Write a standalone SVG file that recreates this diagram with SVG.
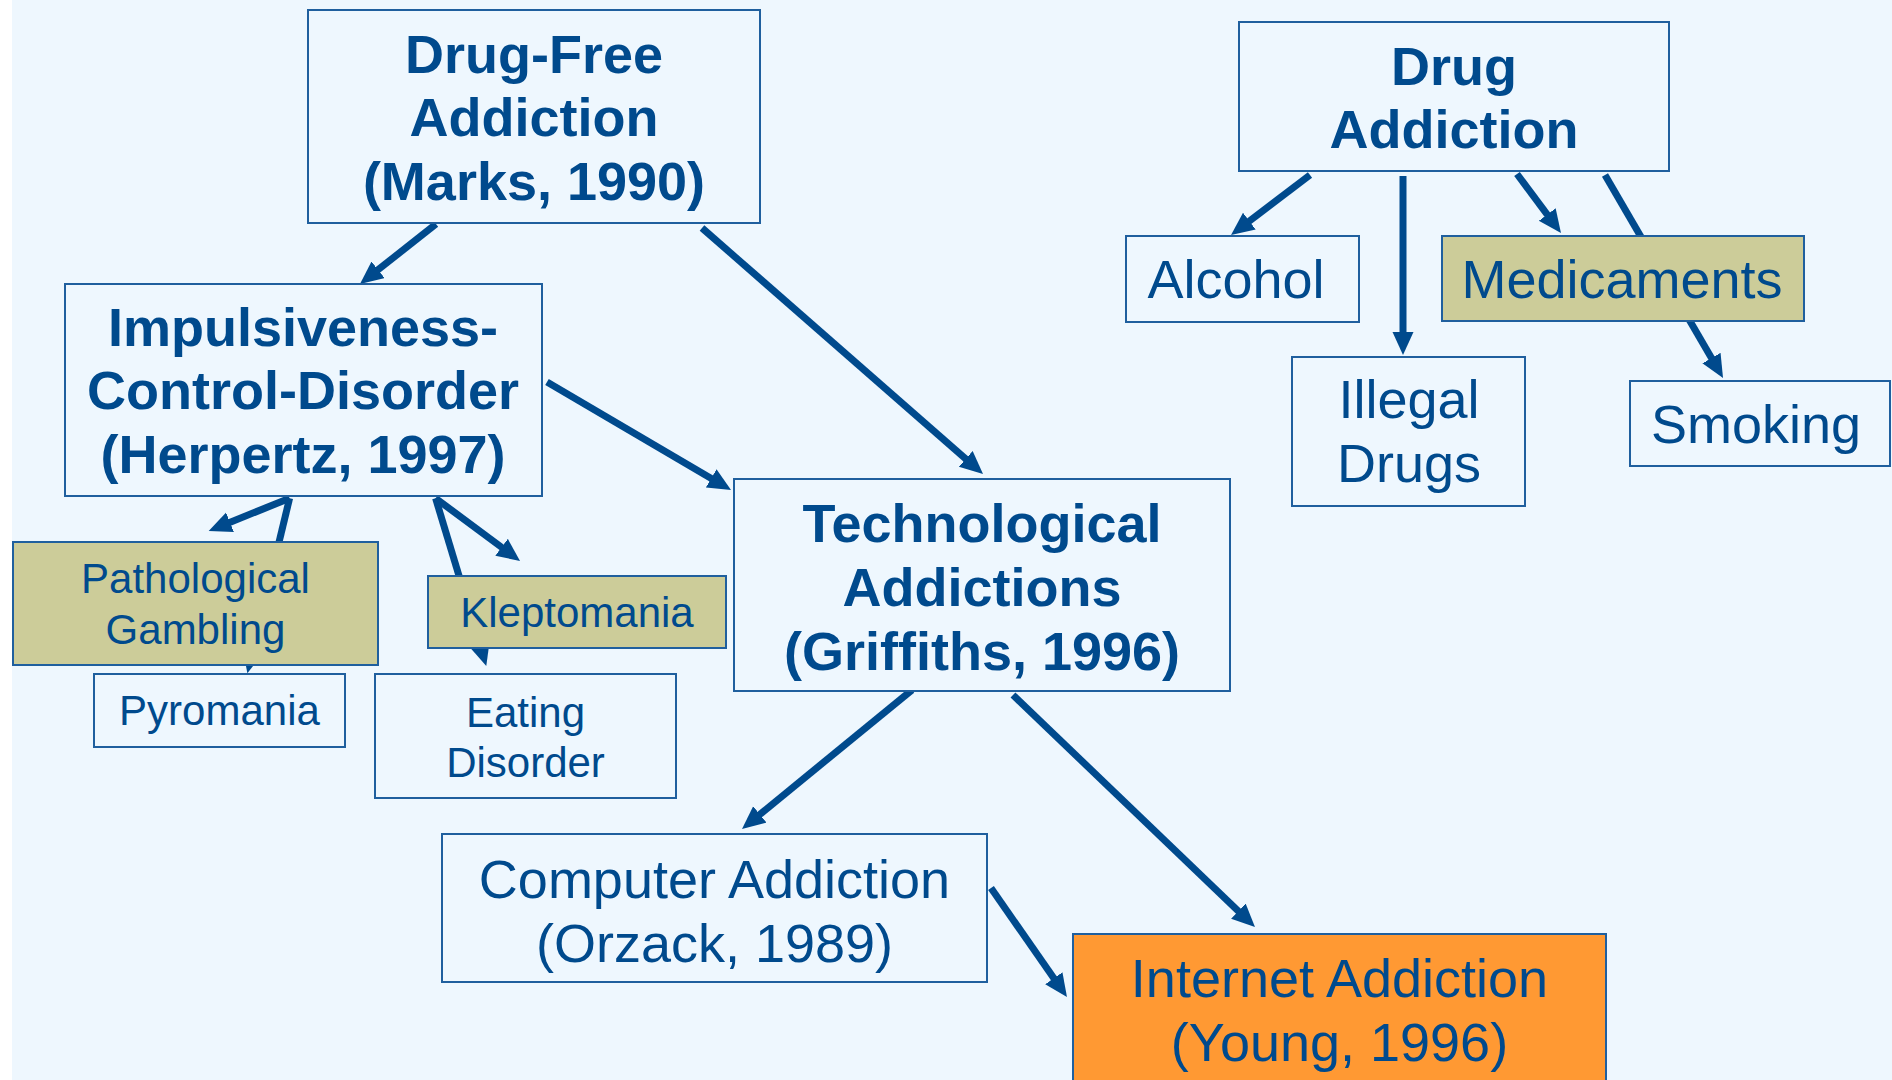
<svg xmlns="http://www.w3.org/2000/svg" width="1892" height="1080" viewBox="0 0 1892 1080">
<style>
.bg{fill:#EEF7FE}
.box{fill:#EEF7FE;stroke:#1F5F9E;stroke-width:2}
.khaki{fill:#CCCC99;stroke:#1F5F9E;stroke-width:2}
.orange{fill:#FF9933;stroke:#1F5F9E;stroke-width:2}
.big{font-family:"Liberation Sans",Arial,sans-serif;font-size:54px;fill:#004A8D;text-anchor:middle}
.bold{font-weight:bold}
.small{font-family:"Liberation Sans",Arial,sans-serif;font-size:42px;fill:#004A8D;text-anchor:middle}
.conn line{stroke:#004A8D;stroke-width:7;marker-end:url(#ah)}
</style>
<defs>
<marker id="ah" markerUnits="userSpaceOnUse" markerWidth="24" markerHeight="22" refX="11" refY="10.5" orient="auto">
<path d="M0,0 L23,10.5 L0,21 z" fill="#004A8D"/>
</marker>
</defs>
<rect x="0" y="0" width="1892" height="1080" fill="#FFFFFF"/>
<rect class="bg" x="12" y="0" width="1880" height="1080"/>

<g id="connectors" class="conn">
<line x1="436" y1="224" x2="369.4" y2="276.6"/>
<line x1="702" y1="228" x2="974" y2="466.1"/>
<line x1="547" y1="382" x2="720.7" y2="483.9"/>
<line x1="289.6" y1="498.3" x2="219.8" y2="526.4"/>
<line x1="289.6" y1="498.3" x2="250.2" y2="661.6"/>
<line x1="435.6" y1="498.3" x2="510.4" y2="553.8"/>
<line x1="435.6" y1="498.3" x2="482.8" y2="654.5"/>
<line x1="912" y1="690" x2="751.3" y2="821.4"/>
<line x1="1013" y1="695" x2="1246.3" y2="918.7"/>
<line x1="991" y1="888" x2="1060.1" y2="987.2"/>
<line x1="1310" y1="175" x2="1240.6" y2="227.7"/>
<line x1="1403" y1="176" x2="1403" y2="343"/>
<line x1="1517" y1="174" x2="1553.8" y2="223.4"/>
<line x1="1605" y1="175" x2="1717" y2="367.6"/>
</g>

<g id="drug-free">
<rect class="box" x="308" y="10" width="452" height="213"/>
<text class="big bold" x="534" y="73">Drug-Free</text>
<text class="big bold" x="534" y="136">Addiction</text>
<text class="big bold" x="534" y="200">(Marks, 1990)</text>
</g>

<g id="drug-addiction">
<rect class="box" x="1239" y="22" width="430" height="149"/>
<text class="big bold" x="1454" y="85">Drug</text>
<text class="big bold" x="1454" y="148">Addiction</text>
</g>

<g id="impulsiveness">
<rect class="box" x="65" y="284" width="477" height="212"/>
<text class="big bold" x="303" y="346">Impulsiveness-</text>
<text class="big bold" x="303" y="409">Control-Disorder</text>
<text class="big bold" x="303" y="473">(Herpertz, 1997)</text>
</g>

<g id="technological">
<rect class="box" x="734" y="479" width="496" height="212"/>
<text class="big bold" x="982" y="542">Technological</text>
<text class="big bold" x="982" y="606">Addictions</text>
<text class="big bold" x="982" y="670">(Griffiths, 1996)</text>
</g>

<g id="alcohol">
<rect class="box" x="1126" y="236" width="233" height="86"/>
<text class="big" x="1236" y="298">Alcohol</text>
</g>

<g id="illegal-drugs">
<rect class="box" x="1292" y="357" width="233" height="149"/>
<text class="big" x="1409" y="418">Illegal</text>
<text class="big" x="1409" y="482">Drugs</text>
</g>

<g id="medicaments">
<rect class="khaki" x="1442" y="236" width="362" height="85"/>
<text class="big" x="1622" y="298">Medicaments</text>
</g>

<g id="smoking">
<rect class="box" x="1630" y="381" width="260" height="85"/>
<text class="big" x="1756" y="443">Smoking</text>
</g>

<g id="pathological-gambling">
<rect class="khaki" x="13" y="542" width="365" height="123"/>
<text class="small" x="195.5" y="593">Pathological</text>
<text class="small" x="195.5" y="644">Gambling</text>
</g>

<g id="kleptomania">
<rect class="khaki" x="428" y="576" width="298" height="72"/>
<text class="small" x="577" y="627">Kleptomania</text>
</g>

<g id="pyromania">
<rect class="box" x="94" y="674" width="251" height="73"/>
<text class="small" x="219.5" y="725">Pyromania</text>
</g>

<g id="eating-disorder">
<rect class="box" x="375" y="674" width="301" height="124"/>
<text class="small" x="525.5" y="727">Eating</text>
<text class="small" x="525.5" y="777">Disorder</text>
</g>

<g id="computer-addiction">
<rect class="box" x="442" y="834" width="545" height="148"/>
<text class="big" x="714.5" y="898">Computer Addiction</text>
<text class="big" x="714.5" y="962">(Orzack, 1989)</text>
</g>

<g id="internet-addiction">
<rect class="orange" x="1073" y="934" width="533" height="150"/>
<text class="big" x="1339.5" y="997">Internet Addiction</text>
<text class="big" x="1339.5" y="1061">(Young, 1996)</text>
</g>
</svg>
